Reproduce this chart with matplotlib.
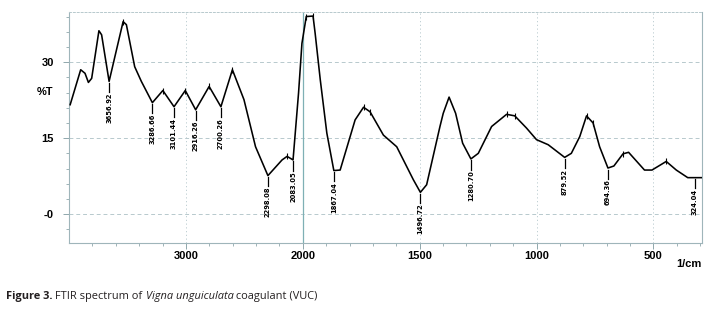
import numpy as np
import matplotlib
matplotlib.use("Agg")
import matplotlib.pyplot as plt

# ---- data ----
wavenumber = [3990, 3900, 3863, 3834, 3806, 3744, 3721, 3656.92, 3594, 3537, 3509, 3438,
              3381, 3286.66, 3197, 3101.44, 3005, 2916.26, 2801, 2700.26, 2602, 2503,
              2404, 2298.08, 2177, 2134, 2083.05, 2036, 2007, 1985, 1956, 1947, 1925,
              1897, 1867.04, 1840, 1776, 1740, 1712, 1655, 1598, 1527, 1496.72, 1470,
              1413, 1399, 1374, 1346, 1316, 1280.70, 1249, 1192, 1128, 1093, 1043, 1000,
              950, 879.52, 851, 815, 786, 758, 730, 694.36, 669, 630, 606, 538, 506, 445,
              402, 353, 324.04, 295]
transmittance = [21.6, 28.5, 27.8, 26.0, 26.8, 36.2, 35.4, 26.2, 32.4, 38.0, 37.4, 29.1,
                 26.2, 22.0, 24.4, 21.2, 24.4, 20.6, 25.2, 21.2, 28.5, 22.6,
                 13.3, 7.6, 10.7, 11.4, 10.7, 23.9, 33.7, 39.0, 39.1, 35.7, 26.5,
                 16.0, 8.6, 8.7, 18.6, 21.1, 20.2, 15.6, 13.3, 6.8, 4.3, 5.8,
                 17.3, 19.9, 23.1, 19.9, 14.0, 10.9, 12.0, 17.3, 19.7, 19.4, 17.0, 14.7,
                 13.7, 11.2, 12.0, 15.3, 19.4, 18.0, 13.3, 9.1, 9.5, 11.9, 12.2, 8.7, 8.7, 10.4,
                 8.7, 7.2, 7.2, 7.2]
min_labels = ["3656.92", "3286.66", "3101.44", "2916.26", "2700.26", "2298.08",
              "2083.05", "1867.04", "1496.72", "1280.70", "879.52", "694.36", "324.04"]
peak_marks = [3537, 3197, 3005, 2801, 2602, 2134, 1985, 1956, 1740, 1712,
              1128, 1093, 786, 758, 630, 445]
x_major = [3000, 2000, 1500, 1000, 500]
y_major = [30, 15, 0]
y_major_labels = ["30", "15", "-0"]

wn = np.array(wavenumber, dtype=float)
tr = np.array(transmittance, dtype=float)

W, H = 711, 312
fig = plt.figure(figsize=(W / 100, H / 100), dpi=100)
ax = fig.add_axes([69 / W, 1 - 243 / H, (702 - 69) / W, (243 - 12) / H])

def fwd(x):
    x = np.asarray(x, dtype=float)
    return np.where(x > 2000, 2000 + (x - 2000) / 2.0, x)

def inv(u):
    u = np.asarray(u, dtype=float)
    return np.where(u > 2000, 2000 + 2.0 * (u - 2000), u)

ax.set_xscale("function", functions=(fwd, inv))
ax.set_xlim(4000, 292)
ax.set_ylim(-5.7, 39.9)

grid_c = "#b7c9cd"
for yv in y_major:
    ax.axhline(yv, color=grid_c, lw=0.7, ls=(0, (4, 3)), zorder=0)
for xv in x_major:
    if xv == 2000:
        ax.axvline(xv, color="#7fb0b5", lw=0.9, zorder=0)
    else:
        ax.axvline(xv, color=grid_c, lw=0.6, ls=(0, (1.5, 3)), zorder=0)

ax.plot(wn, tr, color="black", lw=1.15, zorder=3, solid_joinstyle="round")

# peak (maximum) marks
for p in peak_marks:
    i = int(np.argmin(np.abs(wn - p)))
    ax.plot(wn[i], tr[i], marker="|", ms=5, mew=0.8, color="black", zorder=4)

# minimum labels
for lab in min_labels:
    v = float(lab)
    i = int(np.argmin(np.abs(wn - v)))
    y0 = tr[i]
    ax.plot([wn[i], wn[i]], [y0 - 0.3, y0 - 2.1], color="black", lw=0.9, zorder=4)
    ax.text(wn[i], y0 - 2.2, lab, rotation=90, ha="center", va="top",
            fontsize=5.4, fontweight="bold", family="DejaVu Sans",
            fontstretch="condensed", zorder=5)

# ticks
ax.set_xticks(x_major)
ax.set_xticklabels([str(v) for v in x_major], fontsize=8, fontweight="bold",
                   family="Liberation Sans")
minor_x = [3800, 3600, 3400, 3200, 2800, 2600, 2400, 2200] + \
          [v for v in range(1900, 299, -100) if v not in x_major]
ax.set_xticks(minor_x, minor=True)
ax.set_yticks(y_major)
ax.set_yticklabels(y_major_labels, fontsize=8, fontweight="bold", family="Liberation Sans")
ax.set_yticks([v for v in range(-3, 40, 3) if v not in y_major], minor=True)
ax.tick_params(axis="both", which="major", length=4, width=0.7, color="#8fa7ac")
ax.tick_params(axis="both", which="minor", length=2.5, width=0.6, color="#8fa7ac")
ax.tick_params(axis="x", which="major", pad=1.5)
ax.tick_params(axis="y", which="major", pad=7)

for s in ["left", "bottom", "right"]:
    ax.spines[s].set_color("#9fb5ba")
    ax.spines[s].set_linewidth(0.8)
ax.spines["top"].set_color("#b7c9cd")
ax.spines["top"].set_linewidth(0.7)
ax.spines["top"].set_linestyle((0, (2, 2)))

fig.text(53 / W, 1 - 92 / H, "%T", ha="right", va="center", fontsize=8,
         fontweight="bold", family="Liberation Sans")
fig.text(702 / W, 1 - 264 / H, "1/cm", ha="right", va="center", fontsize=8,
         fontweight="bold", family="Liberation Sans")

# caption
fig.canvas.draw()
r = fig.canvas.get_renderer()
parts = [("Figure 3.", dict(fontweight="bold")),
         (" FTIR spectrum of ", dict()),
         ("Vigna unguiculata", dict(fontstyle="italic")),
         (" coagulant (VUC)", dict())]
xpos = 6
for txt, kw in parts:
    t = fig.text(xpos / W, 1 - 296 / H, txt, ha="left", va="center", fontsize=7.9,
                 family="Open Sans", color="#231f20", **kw)
    bb = t.get_window_extent(r)
    xpos = bb.x1

fig.savefig("out.png", dpi=100)
